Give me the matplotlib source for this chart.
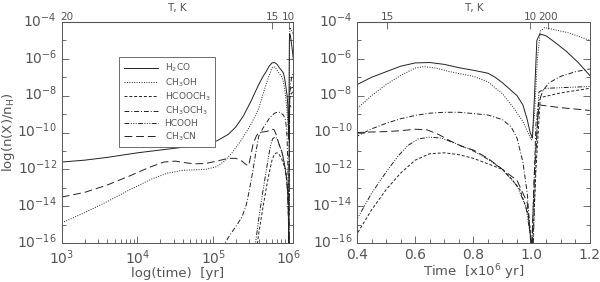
import numpy as np
import matplotlib
matplotlib.use('Agg')
import matplotlib.pyplot as plt
import matplotlib.transforms as mtransforms
from matplotlib.ticker import FixedLocator, NullFormatter, LogLocator

# log10 abundances; early part given in log10(t/yr), late part in t / 1e6 yr
h2co_early_logt = [3.0, 3.3, 3.6, 4.0, 4.3, 4.6, 4.9, 5.05, 5.2, 5.3, 5.4, 5.5]
h2co_early = [-11.6, -11.5, -11.35, -11.1, -10.95, -10.8, -10.6, -10.45, -10.1, -9.7, -9.1, -8.3]
h2co_late_t = [0.4, 0.45, 0.5, 0.55, 0.6, 0.65, 0.7, 0.75, 0.8, 0.85, 0.875, 0.9, 0.925,
               0.95, 0.97, 0.985, 0.995, 1.003, 1.01, 1.018, 1.028, 1.05, 1.08, 1.12, 1.16, 1.2]
h2co_late = [-7.4, -7.0, -6.7, -6.4, -6.22, -6.2, -6.3, -6.48, -6.62, -6.78, -7.0, -7.3, -7.65,
             -8.0, -8.5, -9.3, -10.0, -10.3, -8.0, -5.0, -4.65, -4.75, -5.1, -5.6, -6.2, -6.9]

ch3oh_early_logt = [3.0, 3.3, 3.6, 3.9, 4.2, 4.4, 4.6, 4.9, 5.05, 5.15, 5.25, 5.35, 5.45, 5.52]
ch3oh_early = [-14.9, -14.35, -13.75, -13.1, -12.5, -12.2, -12.05, -12.0, -11.85, -11.55,
               -11.1, -10.55, -9.9, -9.4]
ch3oh_late_t = [0.4, 0.45, 0.5, 0.55, 0.6, 0.63, 0.67, 0.72, 0.8, 0.85, 0.9, 0.94, 0.97,
                0.99, 1.0, 1.01, 1.02, 1.03, 1.045, 1.13, 1.2]
ch3oh_late = [-8.7, -8.0, -7.4, -6.9, -6.5, -6.42, -6.5, -6.7, -6.95, -7.25, -7.9, -8.7, -9.4,
              -10.1, -10.4, -9.0, -6.0, -4.5, -4.3, -4.6, -5.0]

hcooch3_early_logt = [5.565, 5.59]
hcooch3_early = [-16.3, -15.9]
hcooch3_late_t = [0.4, 0.45, 0.5, 0.55, 0.6, 0.65, 0.7, 0.75, 0.8, 0.85, 0.9, 0.93, 0.96,
                  0.99, 1.003, 1.015, 1.03, 1.1, 1.2]
hcooch3_late = [-15.5, -14.2, -13.1, -12.2, -11.5, -11.15, -11.1, -11.2, -11.4, -11.7, -12.0,
                -12.5, -13.1, -14.5, -16.5, -12.0, -8.1, -7.85, -7.6]

ch3och3_early_logt = [5.12, 5.2, 5.3, 5.38, 5.44, 5.48, 5.52, 5.56]
ch3och3_early = [-16.3, -15.7, -15.1, -14.6, -13.9, -13.1, -12.2, -11.2]
ch3och3_late_t = [0.4, 0.45, 0.5, 0.55, 0.6, 0.65, 0.7, 0.75, 0.8, 0.85, 0.9, 0.93, 0.95,
                  0.97, 0.985, 1.0, 1.008, 1.015, 1.025, 1.04, 1.06, 1.1, 1.15, 1.2]
ch3och3_late = [-10.2, -9.8, -9.5, -9.25, -9.07, -8.95, -8.9, -8.9, -8.97, -9.05, -9.3, -9.7,
                -10.3, -11.6, -13.3, -16.5, -13.0, -9.5, -8.3, -7.7, -7.3, -6.95, -6.7, -6.55]

hcooh_early_logt = [5.55, 5.58]
hcooh_early = [-16.3, -15.4]
hcooh_late_t = [0.4, 0.45, 0.5, 0.54, 0.575, 0.61, 0.65, 0.69, 0.74, 0.8, 0.85, 0.9, 0.95,
                0.98, 0.995, 1.005, 1.015, 1.025, 1.05, 1.2]
hcooh_late = [-14.7, -13.3, -12.15, -11.3, -10.7, -10.35, -10.25, -10.3, -10.6, -11.0, -11.45,
              -12.0, -12.9, -14.0, -15.5, -16.5, -11.0, -7.8, -7.6, -7.5]

ch3cn_early_logt = [3.0, 3.3, 3.6, 3.9, 4.15, 4.35, 4.5, 4.6, 4.75, 4.9, 5.05, 5.2, 5.3,
                    5.38, 5.44, 5.47, 5.5, 5.53, 5.57]
ch3cn_early = [-13.5, -13.25, -12.85, -12.35, -11.9, -11.6, -11.55, -11.62, -11.7, -11.68,
               -11.55, -11.4, -11.4, -11.55, -11.75, -11.8, -11.2, -10.6, -10.2]
ch3cn_late_t = [0.4, 0.45, 0.5, 0.55, 0.6, 0.64, 0.68, 0.72, 0.76, 0.8, 0.85, 0.9, 0.95,
                0.985, 1.0, 1.01, 1.025, 1.1, 1.2]
ch3cn_late = [-10.0, -9.97, -9.95, -9.9, -9.82, -9.85, -10.1, -10.45, -10.75, -10.95, -11.4,
              -12.0, -12.6, -13.8, -16.5, -12.0, -8.5, -8.65, -8.8]

species = ['H$_2$CO', 'CH$_3$OH', 'HCOOCH$_3$', 'CH$_3$OCH$_3$', 'HCOOH', 'CH$_3$CN']

# temperature marks on top axis
temp_left_logt = [3.0, 5.78, 6.0]
temp_left_lab = ['20', '15', '10']
temp_right_t = [0.503, 0.995, 1.055]
temp_right_lab = ['15', '10', '200']

data = [
    (h2co_early_logt, h2co_early, h2co_late_t, h2co_late),
    (ch3oh_early_logt, ch3oh_early, ch3oh_late_t, ch3oh_late),
    (hcooch3_early_logt, hcooch3_early, hcooch3_late_t, hcooch3_late),
    (ch3och3_early_logt, ch3och3_early, ch3och3_late_t, ch3och3_late),
    (hcooh_early_logt, hcooh_early, hcooh_late_t, hcooh_late),
    (ch3cn_early_logt, ch3cn_early, ch3cn_late_t, ch3cn_late),
]
styles = ['-', (0, (1, 1.5)), (0, (3, 2)), (0, (5, 2, 1, 2)),
          (0, (5, 1.5, 1, 1.5, 1, 1.5, 1, 1.5)), (0, (8, 4))]

grey = '#555555'
lc = '#222222'
plt.rcParams['font.family'] = ['DejaVu Sans']
plt.rcParams['mathtext.default'] = 'regular'

fig = plt.figure(figsize=(6.0, 2.82), dpi=100)
ax1 = fig.add_axes([0.103, 0.138, 0.385, 0.784])
ax2 = fig.add_axes([0.595, 0.138, 0.388, 0.784])

for (elt, ev, lt, lv), ls, name in zip(data, styles, species):
    t = np.concatenate([10 ** np.array(elt), np.array(lt) * 1e6])
    v = 10 ** np.concatenate([ev, lv])
    ax1.plot(t, v, color=lc, lw=0.7, ls=ls, label=name)
    ax2.plot(t / 1e6, v, color=lc, lw=0.7, ls=ls)

ax1.set_xscale('log')
ax1.set_xlim(1e3, 1.13e6)
ax2.set_xlim(0.4, 1.2)
shift_up = mtransforms.ScaledTranslation(0, 3 / 100, fig.dpi_scale_trans)
shift_right = mtransforms.ScaledTranslation(5 / 100, 0, fig.dpi_scale_trans)
for ax in (ax1, ax2):
    ax.set_yscale('log')
    ax.set_ylim(1e-16, 1e-4)
    ax.yaxis.set_major_locator(FixedLocator([10.0 ** k for k in range(-16, -3, 2)]))
    ax.yaxis.set_minor_locator(FixedLocator([10.0 ** k for k in range(-15, -4, 2)]))
    ax.yaxis.set_minor_formatter(NullFormatter())
    ax.tick_params(which='both', direction='in', right=True, top=False, colors=grey,
                   labelsize=10, width=0.6)
    ax.tick_params(which='major', length=5)
    ax.tick_params(which='minor', length=3)
    ax.tick_params(axis='x', pad=3.5)
    for s in ax.spines.values():
        s.set_color(grey)
        s.set_linewidth(0.7)

ax1.xaxis.set_major_locator(FixedLocator([1e3, 1e4, 1e5, 1e6]))
ax1.xaxis.set_minor_locator(LogLocator(base=10, subs=np.arange(2, 10)))
ax1.xaxis.set_minor_formatter(NullFormatter())
ax2.set_xticks([0.4, 0.6, 0.8, 1.0, 1.2])
ax2.set_xticklabels(['0.4', '0.6', '0.8', '1.0', '1.2'])
ax2.set_xticks(np.arange(0.4, 1.2001, 0.05), minor=True)

ax1.set_xlabel('log(time)  [yr]', color=grey, fontsize=9.5, labelpad=0)
ax2.set_xlabel('Time  [x10$^6$ yr]', color=grey, fontsize=9.5, labelpad=0)
ax1.set_ylabel('log(n(X)/n$_H$)', color=grey, fontsize=9.5)
ax1.yaxis.set_label_coords(-0.195, 0.5)

# top temperature axes
top1 = ax1.secondary_xaxis('top')
top1.set_xticks([10 ** x for x in temp_left_logt])
top1.set_xticklabels(temp_left_lab)
top1.xaxis.set_minor_locator(FixedLocator([]))
top2 = ax2.secondary_xaxis('top')
top2.set_xticks(temp_right_t)
top2.set_xticklabels(temp_right_lab)
for top in (top1, top2):
    top.tick_params(direction='in', length=5, width=0.6, colors=grey, labelsize=7.5, pad=0)
    top.set_xlabel('T, K', color=grey, fontsize=7.5, labelpad=1)
    top.spines['top'].set_color(grey)

fig.canvas.draw()
for ax in (ax1, ax2):
    for lab in ax.get_yticklabels():
        lab.set_transform(lab.get_transform() + shift_up)
first = top1.xaxis.get_ticklabels()[0]
first.set_transform(first.get_transform() + shift_right)

leg = ax1.legend(loc='upper left', bbox_to_anchor=(0.23, 0.86), fontsize=6.5,
                 handlelength=3.8, labelspacing=0.2, borderpad=0.5, handletextpad=0.7,
                 fancybox=False, framealpha=1)
leg.get_frame().set_edgecolor(grey)
leg.get_frame().set_linewidth(0.6)
for txt in leg.get_texts():
    txt.set_color(grey)

fig.savefig('out.png', dpi=100)
